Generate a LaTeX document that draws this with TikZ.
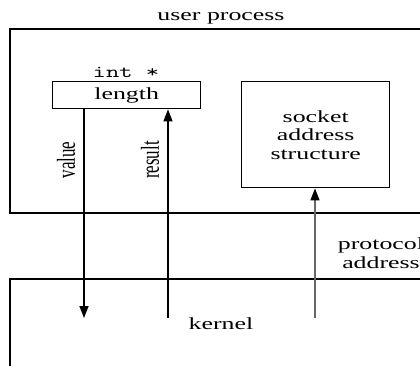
\documentclass[tikz,border=0pt]{standalone}
\usepackage{fontspec}
\setmainfont{Liberation Serif}
\usetikzlibrary{arrows.meta}
% horizontally widened text, and its counterpart for rotated labels
\newcommand{\widetext}[1]{\scalebox{1.52}[1]{#1}}
\newcommand{\talltext}[1]{\scalebox{1}[1.52]{#1}}

\begin{document}
\begin{tikzpicture}[x=1pt,y=-1pt,
  frame/.style={draw, line width=1.4pt, inner sep=0pt},
  lbl/.style={font=\fontsize{17}{18.5}\selectfont, inner sep=0pt},
  code/.style={font=\ttfamily\fontsize{17}{18}\selectfont, inner sep=0pt},
  tipline/.style={-{Triangle[length=12pt,width=9pt]}, line width=1.4pt}]
\useasboundingbox (0,0) rectangle (420,366);
\clip (0,0) rectangle (420,366);

% user process region
\node[lbl] (utitle) at (221,18) {\widetext{user process}};
\draw[line width=1.4pt] (10,29) rectangle (440,213);

% kernel region
\draw[line width=1.1pt] (10,279) rectangle (440,400);
\node[lbl] (ktitle) at (221,324) {\widetext{kernel}};

% length variable and its type
\node[frame, lbl, minimum width=148pt, minimum height=27pt, anchor=north west] (len) at (52,81) {\widetext{length}};
\node[code] (type) at (126,72) {\widetext{int *}};

% socket address structure
\node[frame, lbl, align=center, minimum width=148pt, minimum height=106pt, anchor=north west] (sock) at (241,81)
  {\widetext{socket}\\\widetext{address}\\\widetext{structure}};

% connector end points inside the kernel
\coordinate (vend) at (84,318);
\coordinate (rstart) at (168,318);
\coordinate (pstart) at (315,318);

% value / result arrows
\draw[tipline] (len.south -| vend) -- (vend);
\draw[tipline] (rstart) -- (len.south -| rstart);
\node[lbl, rotate=90] (vlabel) at (66,160) {\talltext{value}};
\node[lbl, rotate=90] (rlabel) at (150,160) {\talltext{result}};

% protocol address arrow
\draw[line width=1.3pt, draw=black!60, -{Triangle[length=12pt,width=9pt,fill=black,color=black]}] (pstart) -- (sock.south -| pstart);
\node[lbl, align=center] (plabel) at (381,253) {\widetext{protocol}\\\widetext{address}};
\end{tikzpicture}
\end{document}
